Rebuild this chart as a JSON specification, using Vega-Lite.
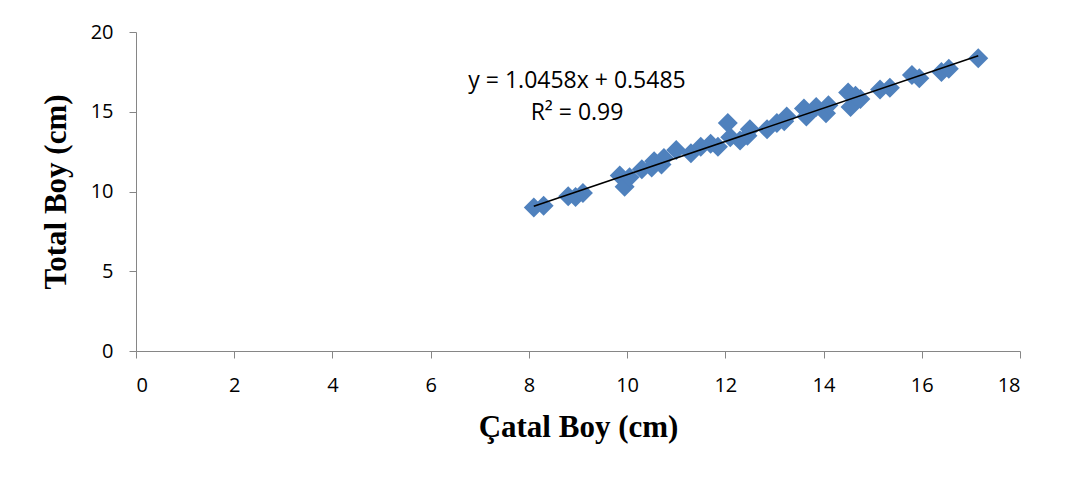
{
  "$schema": "https://vega.github.io/schema/vega-lite/v6.json",
  "autosize": "none",
  "width": 884,
  "height": 319,
  "padding": {"left": 136, "top": 32, "right": 46, "bottom": 129},
  "background": "white",
  "config": {
    "view": {"stroke": null},
    "axis": {
      "grid": false,
      "domainColor": "#868686",
      "tickColor": "#868686",
      "labelFont": "Open Sans",
      "labelFontSize": 20,
      "labelColor": "#000000",
      "titleFont": "Liberation Serif",
      "titleFontWeight": "bold",
      "titleFontSize": 31,
      "titleColor": "#000000",
      "tickSize": 7
    }
  },
  "datasets": {
    "pts": [
      {"catal": 8.1, "total": 9.0},
      {"catal": 8.3, "total": 9.1},
      {"catal": 8.8, "total": 9.7},
      {"catal": 8.95, "total": 9.65},
      {"catal": 9.1, "total": 9.9},
      {"catal": 9.85, "total": 11.0},
      {"catal": 9.95, "total": 10.3},
      {"catal": 10.05, "total": 10.9},
      {"catal": 10.3, "total": 11.4},
      {"catal": 10.5, "total": 11.5},
      {"catal": 10.55, "total": 11.9},
      {"catal": 10.7, "total": 11.7},
      {"catal": 10.75, "total": 12.1},
      {"catal": 11.0, "total": 12.6},
      {"catal": 11.3, "total": 12.4},
      {"catal": 11.5, "total": 12.8},
      {"catal": 11.7, "total": 13.0},
      {"catal": 11.85, "total": 12.8},
      {"catal": 12.05, "total": 14.3},
      {"catal": 12.1, "total": 13.4},
      {"catal": 12.3, "total": 13.2},
      {"catal": 12.45, "total": 13.5},
      {"catal": 12.5, "total": 13.9},
      {"catal": 12.85, "total": 13.9},
      {"catal": 13.05, "total": 14.3},
      {"catal": 13.2, "total": 14.4},
      {"catal": 13.25, "total": 14.7},
      {"catal": 13.6, "total": 15.2},
      {"catal": 13.65, "total": 14.7},
      {"catal": 13.85, "total": 15.3},
      {"catal": 14.05, "total": 14.9},
      {"catal": 14.1, "total": 15.4},
      {"catal": 14.5, "total": 16.2},
      {"catal": 14.55, "total": 15.3},
      {"catal": 14.65, "total": 16.0},
      {"catal": 14.75, "total": 15.8},
      {"catal": 15.15, "total": 16.4},
      {"catal": 15.35, "total": 16.5},
      {"catal": 15.8, "total": 17.3},
      {"catal": 15.95, "total": 17.1},
      {"catal": 16.4, "total": 17.5},
      {"catal": 16.55, "total": 17.7},
      {"catal": 17.15, "total": 18.35}
    ],
    "labels": [
      {"catal": 8.98, "total": 16.9, "text": "y = 1.0458x + 0.5485"},
      {"catal": 8.98, "total": 14.95, "text": "R² = 0.99"}
    ]
  },
  "layer": [
    {
      "data": {"name": "pts"},
      "mark": {"type": "point", "shape": "diamond", "filled": true, "size": 400, "color": "#4F81BD", "opacity": 1},
      "encoding": {
        "x": {"field": "catal", "type": "quantitative", "scale": {"domain": [0, 18], "nice": false},
              "axis": {"title": "Çatal Boy (cm)", "values": [0, 2, 4, 6, 8, 10, 12, 14, 16, 18], "labelPadding": 17, "titlePadding": 17}},
        "y": {"field": "total", "type": "quantitative", "scale": {"domain": [0, 20], "nice": false},
              "axis": {"title": "Total Boy (cm)", "values": [0, 5, 10, 15, 20], "labelPadding": 16, "titlePadding": 18}}
      }
    },
    {
      "data": {"name": "pts"},
      "transform": [{"regression": "total", "on": "catal"}],
      "mark": {"type": "line", "color": "#000000", "strokeWidth": 1.6},
      "encoding": {
        "x": {"field": "catal", "type": "quantitative"},
        "y": {"field": "total", "type": "quantitative"}
      }
    },
    {
      "data": {"name": "labels"},
      "mark": {"type": "text", "font": "Open Sans", "fontSize": 23, "color": "#000000", "align": "center", "baseline": "middle"},
      "encoding": {
        "x": {"field": "catal", "type": "quantitative"},
        "y": {"field": "total", "type": "quantitative"},
        "text": {"field": "text"}
      }
    }
  ]
}
